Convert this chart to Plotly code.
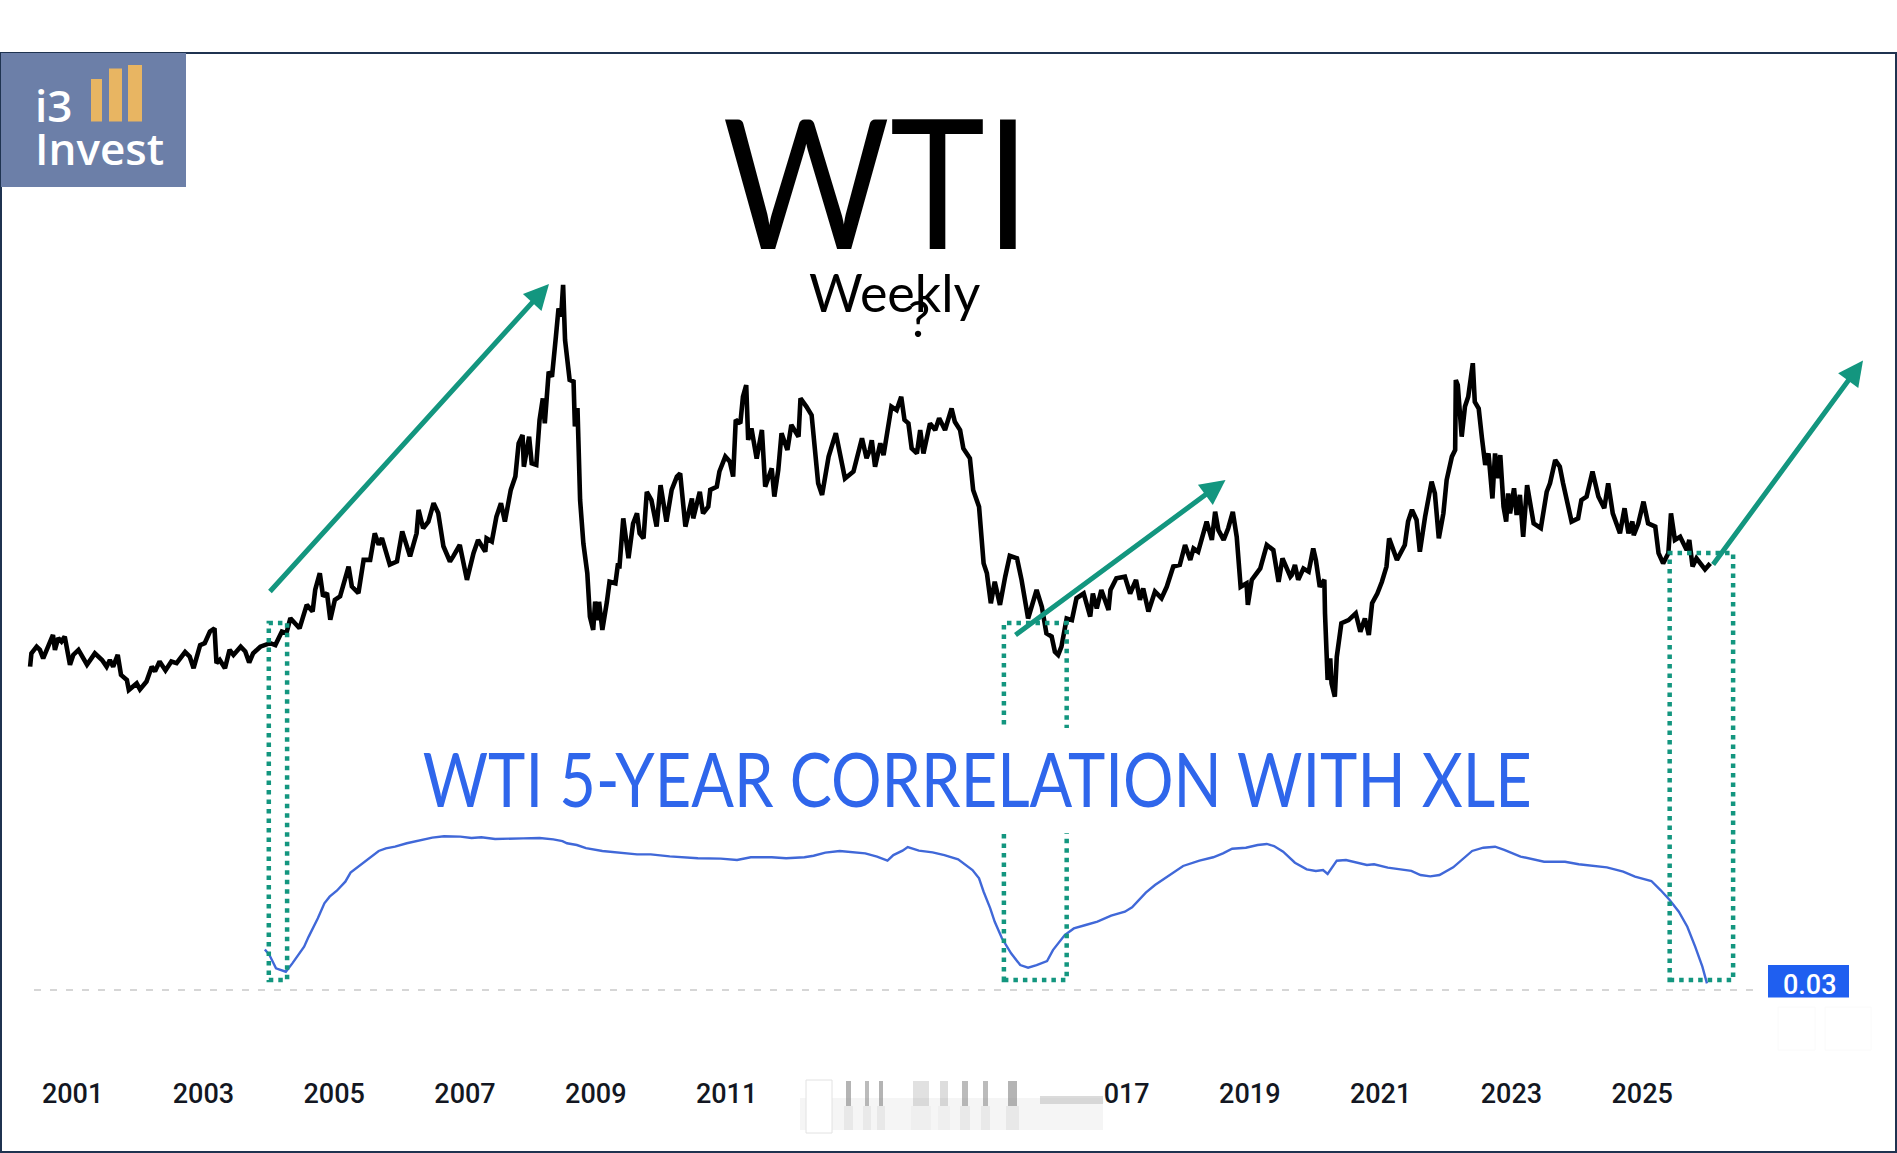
import plotly.graph_objects as go

W, H = 1897, 1153

tick_years = [2001, 2003, 2005, 2007, 2009, 2011, 2013, 2015, 2017, 2019, 2021, 2023, 2025]

wti_points = [
 (2000.35,26.2),(2000.37,30.4),(2000.45,32.5),(2000.50,31.5),(2000.55,28.8),(2000.63,33.0),(2000.70,36.2),(2000.73,31.5),
 (2000.78,35.2),(2000.83,34.1),(2000.88,35.7),(2000.96,26.8),(2001.01,29.9),(2001.09,31.5),(2001.22,26.8),(2001.34,30.4),
 (2001.45,28.3),(2001.52,26.2),(2001.57,28.3),(2001.62,26.2),(2001.69,29.9),(2001.74,23.6),(2001.83,22.0),(2001.86,18.8),
 (2001.98,20.9),(2002.03,19.0),(2002.13,21.5),(2002.21,26.2),(2002.26,24.7),(2002.33,27.8),(2002.42,25.0),(2002.51,27.8),
 (2002.59,27.3),(2002.72,30.8),(2002.79,29.4),(2002.85,25.7),(2002.95,33.0),(2003.02,33.6),(2003.10,37.3),(2003.17,38.3),
 (2003.20,27.3),(2003.25,28.3),(2003.33,25.7),(2003.40,31.5),(2003.46,29.9),(2003.57,32.5),(2003.64,31.0),(2003.70,27.5),
 (2003.76,30.4),(2003.87,32.5),(2004.02,33.6),(2004.10,33.0),(2004.20,37.3),(2004.27,36.8),(2004.33,41.5),(2004.47,38.3),
 (2004.58,45.7),(2004.67,43.6),(2004.71,50.5),(2004.78,55.7),(2004.83,48.4),(2004.89,49.4),(2004.94,41.0),(2005.01,47.3),
 (2005.09,48.4),(2005.22,57.8),(2005.27,51.5),(2005.37,49.4),(2005.45,59.9),(2005.55,59.9),(2005.62,68.3),(2005.68,64.7),
 (2005.73,66.8),(2005.85,58.4),(2005.96,59.4),(2006.04,68.9),(2006.16,61.0),(2006.26,68.3),(2006.29,75.7),(2006.36,69.9),
 (2006.44,72.0),(2006.52,77.8),(2006.59,74.7),(2006.67,64.2),(2006.77,59.4),(2006.82,61.0),(2006.92,64.6),(2007.03,53.6),
 (2007.13,62.0),(2007.20,66.2),(2007.31,62.5),(2007.33,66.7),(2007.41,65.7),(2007.48,73.5),(2007.55,77.8),(2007.61,72.0),
 (2007.70,82.0),(2007.77,86.2),(2007.82,96.7),(2007.88,99.3),(2007.90,89.3),(2007.98,98.8),(2008.02,90.4),(2008.09,89.9),
 (2008.14,104.1),(2008.19,110.9),(2008.22,103.0),(2008.28,119.3),(2008.33,117.7),(2008.39,130.4),(2008.43,139.3),(2008.47,136.7),
 (2008.50,146.7),(2008.53,129.3),(2008.60,116.7),(2008.66,116.2),(2008.68,102.0),(2008.72,107.8),(2008.76,78.8),(2008.81,65.1),
 (2008.87,55.7),(2008.91,42.0),(2008.96,37.8),(2008.99,46.7),(2009.04,40.9),(2009.05,46.7),(2009.10,37.8),(2009.17,46.7),
 (2009.21,53.0),(2009.30,52.5),(2009.34,58.8),(2009.36,57.2),(2009.42,73.0),(2009.50,60.4),(2009.57,71.4),(2009.63,74.6),
 (2009.67,68.3),(2009.73,66.7),(2009.78,81.4),(2009.85,78.8),(2009.93,70.4),(2009.99,83.5),(2010.08,72.0),(2010.16,82.0),
 (2010.24,86.2),(2010.29,87.2),(2010.37,70.4),(2010.47,79.3),(2010.49,73.0),(2010.59,81.4),(2010.64,74.6),(2010.72,76.7),
 (2010.75,82.0),(2010.85,83.0),(2010.89,87.8),(2010.98,92.5),(2011.05,90.9),(2011.10,86.2),(2011.14,104.1),(2011.21,103.0),
 (2011.25,111.4),(2011.30,115.1),(2011.33,97.8),(2011.38,101.4),(2011.46,91.9),(2011.54,100.9),(2011.59,83.0),(2011.69,88.8),
 (2011.73,79.9),(2011.79,88.3),(2011.84,99.9),(2011.93,94.6),(2011.99,102.5),(2012.10,98.8),(2012.13,110.9),(2012.22,108.3),
 (2012.30,105.6),(2012.40,84.1),(2012.46,80.4),(2012.56,92.5),(2012.67,99.9),(2012.81,85.6),(2012.94,87.8),(2013.07,98.3),
 (2013.14,92.0),(2013.19,94.6),(2013.22,97.7),(2013.27,89.3),(2013.35,96.7),(2013.40,93.0),(2013.45,98.8),(2013.52,108.3),
 (2013.60,107.2),(2013.67,111.4),(2013.72,104.1),(2013.78,103.0),(2013.83,95.1),(2013.91,93.5),(2013.96,100.9),(2014.01,93.5),
 (2014.11,103.0),(2014.19,100.9),(2014.25,104.6),(2014.34,100.9),(2014.44,107.7),(2014.49,103.5),(2014.57,100.9),(2014.62,95.1),
 (2014.72,92.0),(2014.77,82.0),(2014.86,76.7),(2014.90,66.2),(2014.93,58.8),(2014.98,55.7),(2015.04,46.2),(2015.10,53.0),
 (2015.18,45.7),(2015.26,54.6),(2015.33,61.2),(2015.44,60.4),(2015.51,53.6),(2015.61,41.4),(2015.67,46.2),(2015.74,50.4),
 (2015.82,45.1),(2015.89,36.7),(2015.97,35.7),(2016.02,30.9),(2016.07,29.9),(2016.12,32.5),(2016.20,41.4),(2016.28,40.9),
 (2016.35,47.8),(2016.46,49.3),(2016.56,42.0),(2016.60,49.3),(2016.66,44.6),(2016.73,50.4),(2016.84,44.1),(2016.87,50.4),
 (2016.96,54.1),(2017.09,54.6),(2017.17,49.3),(2017.26,53.6),(2017.32,47.3),(2017.37,50.9),(2017.45,43.6),(2017.55,49.9),
 (2017.65,47.8),(2017.73,51.4),(2017.83,57.8),(2017.93,58.3),(2018.01,64.6),(2018.09,59.9),(2018.14,63.5),(2018.21,62.5),
 (2018.34,72.0),(2018.42,66.2),(2018.47,75.1),(2018.52,69.3),(2018.60,66.2),(2018.67,69.9),(2018.74,75.1),(2018.80,67.2),
 (2018.86,51.4),(2018.95,52.5),(2018.97,45.7),(2019.03,53.6),(2019.16,57.2),(2019.26,64.6),(2019.36,63.0),(2019.44,53.0),
 (2019.50,60.4),(2019.62,54.6),(2019.64,55.1),(2019.69,58.3),(2019.74,53.6),(2019.82,57.2),(2019.90,56.2),(2019.97,63.5),
 (2020.01,59.9),(2020.07,51.4),(2020.14,53.6),(2020.15,43.0),(2020.19,22.0),(2020.23,28.8),(2020.25,20.9),(2020.30,16.7),
 (2020.33,29.3),(2020.40,39.9),(2020.51,40.9),(2020.62,43.0),(2020.69,37.2),(2020.76,41.4),(2020.82,36.2),(2020.87,46.2),
 (2020.95,49.3),(2021.02,53.0),(2021.09,57.8),(2021.13,66.7),(2021.25,59.9),(2021.37,64.6),(2021.42,72.0),(2021.48,75.7),
 (2021.55,72.5),(2021.60,62.5),(2021.68,73.5),(2021.78,84.6),(2021.83,80.9),(2021.89,66.7),(2021.96,74.6),(2022.01,85.1),
 (2022.09,92.5),(2022.14,94.6),(2022.15,116.7),(2022.18,115.1),(2022.24,98.8),(2022.29,108.3),(2022.34,111.4),(2022.41,122.0),
 (2022.44,109.8),(2022.50,107.7),(2022.55,98.3),(2022.60,89.9),(2022.65,93.5),(2022.71,79.3),(2022.75,93.5),(2022.80,85.7),
 (2022.83,93.0),(2022.88,76.7),(2022.92,72.0),(2022.95,80.9),(2022.98,74.6),(2023.04,82.5),(2023.08,74.1),(2023.13,80.4),
 (2023.18,67.2),(2023.24,83.5),(2023.34,71.4),(2023.45,69.9),(2023.54,81.4),(2023.59,84.1),(2023.67,91.4),(2023.74,89.3),
 (2023.79,84.1),(2023.92,72.0),(2024.02,73.0),(2024.07,78.8),(2024.15,79.9),(2024.24,87.8),(2024.33,79.9),(2024.42,76.2),
 (2024.48,84.1),(2024.55,74.6),(2024.66,68.3),(2024.73,76.2),(2024.79,68.3),(2024.85,72.0),(2024.87,67.7),(2024.94,71.4),
 (2025.02,78.3),(2025.09,71.4),(2025.20,70.4),(2025.25,62.0),(2025.32,58.8),(2025.40,62.0),(2025.44,74.6),(2025.50,66.2),
 (2025.58,67.2),(2025.68,63.0),(2025.72,66.2),(2025.77,57.8),(2025.83,60.4),(2025.96,56.9),(2026.04,58.8),
]
wti_years = [p[0] for p in wti_points]
wti_price = [p[1] for p in wti_points]

corr_points = [
 (2003.94,.268),(2004.01,.235),(2004.11,.157),(2004.26,.137),(2004.36,.186),(2004.54,.284),(2004.61,.343),(2004.75,.450),
 (2004.85,.538),(2004.93,.577),(2005.04,.612),(2005.17,.665),(2005.25,.718),(2005.40,.763),(2005.54,.802),(2005.68,.845),
 (2005.79,.860),(2005.93,.870),(2006.11,.890),(2006.32,.909),(2006.50,.923),(2006.68,.931),(2006.93,.929),(2007.10,.921),
 (2007.25,.925),(2007.46,.915),(2007.67,.915),(2007.89,.919),(2008.14,.921),(2008.35,.913),(2008.49,.903),(2008.56,.890),
 (2008.71,.880),(2008.85,.862),(2009.10,.845),(2009.42,.833),(2009.63,.825),(2009.84,.825),(2010.13,.813),(2010.56,.802),
 (2010.91,.800),(2011.16,.792),(2011.37,.808),(2011.69,.808),(2011.91,.802),(2012.19,.808),(2012.33,.817),(2012.51,.835),
 (2012.73,.845),(2013.12,.831),(2013.30,.812),(2013.46,.788),(2013.55,.821),(2013.69,.847),(2013.77,.868),(2013.94,.847),
 (2014.15,.837),(2014.33,.821),(2014.54,.796),(2014.76,.733),(2014.86,.685),(2014.93,.606),(2015.03,.510),(2015.10,.430),
 (2015.21,.333),(2015.35,.245),(2015.49,.176),(2015.61,.161),(2015.74,.176),(2015.90,.200),(2015.99,.264),(2016.17,.352),
 (2016.31,.391),(2016.49,.411),(2016.67,.431),(2016.88,.466),(2017.09,.489),(2017.20,.515),(2017.31,.558),(2017.41,.601),
 (2017.55,.645),(2017.70,.685),(2017.84,.724),(2017.98,.757),(2018.23,.788),(2018.44,.808),(2018.59,.831),(2018.73,.858),
 (2018.94,.864),(2019.12,.880),(2019.26,.886),(2019.37,.874),(2019.51,.841),(2019.69,.776),(2019.87,.737),(2020.01,.728),
 (2020.12,.733),(2020.19,.710),(2020.33,.788),(2020.47,.792),(2020.79,.763),(2020.90,.767),(2021.11,.747),(2021.47,.728),
 (2021.61,.704),(2021.76,.696),(2021.90,.704),(2022.11,.749),(2022.40,.845),(2022.57,.864),(2022.75,.870),(2022.89,.851),
 (2023.14,.812),(2023.50,.782),(2023.82,.782),(2024.03,.767),(2024.46,.749),(2024.71,.724),(2024.89,.694),(2025.14,.669),
 (2025.28,.616),(2025.42,.558),(2025.56,.489),(2025.69,.401),(2025.81,.284),(2025.92,.167),(2025.99,.069),
]
corr_years = [p[0] for p in corr_points]
corr_values = [p[1] for p in corr_points]
last_corr = 0.03


def px(x):
    return x / W


def py(y):
    return 1 - y / H


def rect(x0, y0, x1, y1, fill, line=None, lw=0, opacity=1.0):
    return dict(type="rect", xref="paper", yref="paper", x0=px(x0), x1=px(x1), y0=py(y0), y1=py(y1),
                fillcolor=fill, opacity=opacity, line=dict(color=line or "rgba(0,0,0,0)", width=lw), layer="above")


TEAL = "#13967F"
BLUE = "#2F66EB"
DOT = "4.5px,5px"

fig = go.Figure()
fig.add_trace(go.Scatter(x=wti_years, y=wti_price, mode="lines", line=dict(color="#000000", width=4.6),
                         xaxis="x", yaxis="y", showlegend=False, hoverinfo="skip"))
fig.add_trace(go.Scatter(x=corr_years, y=corr_values, mode="lines", line=dict(color="#4068D8", width=2.4),
                         xaxis="x", yaxis="y2", showlegend=False, hoverinfo="skip"))

shapes = []
# frame
shapes.append(rect(1, 53, W - 1, H - 1, "rgba(0,0,0,0)", "#1F3350", 2))
# logo
shapes.append(rect(1, 53, 186, 187, "#6C7FA8"))
for x0, x1, top in [(91, 102, 79), (109, 122, 68.5), (128, 142, 65)]:
    shapes.append(rect(x0, top, x1, 121.5, "#E8B562"))
# green boxes
for xl, xr, ytop in [(2004.00, 2004.28, 623), (2015.24, 2016.20, 623), (2025.42, 2026.39, 553)]:
    shapes.append(dict(type="rect", xref="x", yref="paper", x0=xl, x1=xr, y0=py(980), y1=py(ytop),
                       fillcolor="rgba(0,0,0,0)", line=dict(color=TEAL, width=4.5, dash=DOT), layer="above"))
# white text box behind the correlation title
shapes.append(rect(960, 728, 1110, 833, "#FFFFFF"))
# last value line
shapes.append(dict(type="line", xref="paper", yref="y2", x0=px(34), x1=px(1760), y0=last_corr, y1=last_corr,
                   line=dict(color="#C9C9C9", width=1.5, dash="7px,9px"), layer="below"))
# last value tag
shapes.append(rect(1768, 965, 1849, 997.5, "#1F5FF0"))
# faint buttons
shapes.append(rect(1778, 1007, 1815, 1050, "rgba(0,0,0,0)", "#FAFAFA", 1))
shapes.append(rect(1825, 1007, 1871, 1050, "rgba(0,0,0,0)", "#FAFAFA", 1))
# smudge over the hidden labels
shapes.append(rect(786, 1072, 1103, 1134, "#FFFFFF"))
shapes.append(rect(800, 1098, 1103, 1130, "#F5F5F5"))
shapes.append(rect(1040, 1096, 1103, 1104, "#BDBDBD", opacity=0.55))
for x0, x1, op in [(846, 851, .55), (865, 869, .5), (879, 883, .55), (913, 929, .22), (940, 948, .25),
                   (962, 968, .5), (983, 988, .5), (1008, 1017, .55)]:
    shapes.append(rect(x0, 1081, x1, 1106, "#777777", opacity=op))
    shapes.append(rect(x0 - 2, 1106, x1 + 2, 1130, "#AAAAAA", opacity=op * .3))
shapes.append(dict(type="rect", xref="paper", yref="paper", x0=px(806), x1=px(832), y0=py(1133), y1=py(1080),
                   fillcolor="#FFFFFF", line=dict(color="#E2E2E2", width=1), layer="above"))

annotations = []


def text(x, y, s, size, color="#000000", family="Lato", xanchor="center", weight=None):
    f = dict(size=size, color=color, family=family)
    if weight:
        f["weight"] = weight
    annotations.append(dict(xref="paper", yref="paper", x=px(x), y=py(y), text=s, showarrow=False,
                            font=f, xanchor=xanchor, yanchor="middle"))


text(876.5, 178.5, "WTI", 180)
text(895, 292, "Weekly", 52)
text(919, 318, "?", 50)
text(977, 777, "WTI 5-YEAR CORRELATION WITH XLE", 76, BLUE)
text(33, 105, "i3", 44, "#FFFFFF", "Open Sans", "left", 600)
text(33, 148, "Invest", 44, "#FFFFFF", "Open Sans", "left", 600)
text(1810, 985, "0.03", 27, "#FFFFFF", "Roboto", weight=500)


def arrow(x0, y0, x1, y1):
    annotations.append(dict(xref="paper", yref="paper", axref="pixel", ayref="pixel", x=px(x1), y=py(y1),
                            ax=x0 - x1, ay=y0 - y1, text="", showarrow=True, arrowhead=2, arrowsize=1.0,
                            arrowwidth=5, arrowcolor=TEAL))


# scale of the picture, used only to set the axis ranges
X_PER_YEAR = 65.4
X_2001 = 72.6
Y_BOTTOM = 1074.5
PRICE_PER_PX = 0.3157
CORR_PER_PX = 1 / 170.6

arrow(268.6, 593, 549, 284)
arrow(1014, 636, 1225.5, 480)
arrow(1712, 566, 1863, 360.5)

fig.update_layout(
    width=W, height=H, margin=dict(l=0, r=0, t=0, b=0), paper_bgcolor="#FFFFFF", plot_bgcolor="rgba(0,0,0,0)",
    showlegend=False, shapes=shapes, annotations=annotations,
    xaxis=dict(domain=[0, 1], range=[2001 - X_2001 / X_PER_YEAR, 2001 + (W - X_2001) / X_PER_YEAR],
               tickvals=tick_years, ticktext=[str(y) for y in tick_years], showgrid=False, zeroline=False,
               showline=False, ticks="", tickfont=dict(family="Roboto", size=27, color="#131722", weight=500),
               anchor="y"),
    yaxis=dict(domain=[1 - Y_BOTTOM / H, 1], range=[147 - (Y_BOTTOM - 284) * PRICE_PER_PX, 147 + 284 * PRICE_PER_PX],
               visible=False),
    yaxis2=dict(domain=[1 - Y_BOTTOM / H, 1], overlaying="y",
                range=[last_corr - (Y_BOTTOM - 990) * CORR_PER_PX, last_corr + 990 * CORR_PER_PX], visible=False),
)

post = """
document.body.style.margin='0';
function fitTitles(){
  var widths={'WTI':308,'WTI 5-YEAR CORRELATION WITH XLE':1109};
  document.querySelectorAll('.annotation-text').forEach(function(t){
    var w=widths[t.textContent];
    if(w){t.setAttribute('textLength',w);t.setAttribute('lengthAdjust','spacingAndGlyphs');}
  });
}
fitTitles();setTimeout(fitTitles,100);setTimeout(fitTitles,500);
"""
fig.write_html("out.html", config={"displayModeBar": False}, post_script=post)
